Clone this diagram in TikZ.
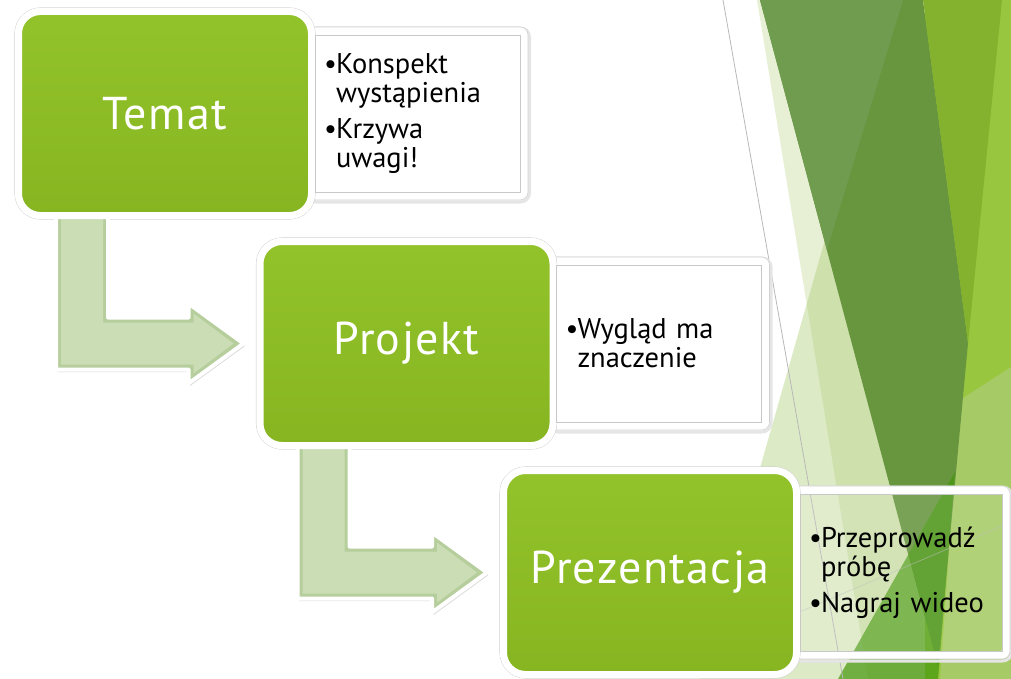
\documentclass[tikz,border=0pt]{standalone}
\usepackage{fontspec}
\setmainfont{PT Sans}
\usetikzlibrary{positioning,shadows,calc}
\pgfdeclarelayer{bg}
\pgfsetlayers{bg,main}

\definecolor{stagetop}{HTML}{93C32A}
\definecolor{stagebot}{HTML}{86B521}
\definecolor{bentfill}{HTML}{CADDB5}
\definecolor{bentedge}{HTML}{B6CD9C}
\definecolor{notegray}{HTML}{C8C8C8}
\definecolor{facetpale}{HTML}{E7F0D5}
\definecolor{facetlight}{HTML}{AACA70}
\definecolor{facetdark}{HTML}{68963F}
\definecolor{facetmid}{HTML}{6F9C4F}
\definecolor{facetolive}{HTML}{84B22E}
\definecolor{facetright}{HTML}{98C63E}
\definecolor{facetpaler}{HTML}{A6CB66}
\definecolor{facetgreen}{HTML}{44970B}

\tikzset{
  stagebox/.style={rectangle, rounded corners=22pt, top color=stagetop, bottom color=stagebot,
    draw=white, line width=7pt, minimum width=293pt, minimum height=204pt,
    inner sep=0pt, outer sep=0pt, text=white,
    font=\fontsize{46}{50}\selectfont\addfontfeature{LetterSpace=3},
    drop shadow={opacity=.3, shadow xshift=1.5pt, shadow yshift=-2.5pt}},
  notebox/.style={rectangle, draw=notegray, line width=.8pt, fill=white,
    minimum width=205pt, minimum height=157pt, text width=187pt, inner xsep=9pt,
    inner ysep=0pt, outer sep=0pt, align=left, font=\fontsize{28.5}{29}\selectfont},
  ring/.style={draw=white, line width=8pt, rounded corners=4pt},
  ringedge/.style={draw=black!18, line width=.6pt, rounded corners=8pt},
  ringshade/.style={draw=black!10, line width=3pt, rounded corners=9pt},
  facetline/.style={draw=black!28, line width=.8pt}
}

% bullet item and its hanging indent
\newcommand\bul[1]{\makebox[12pt][l]{\textbullet}#1}
\newcommand\ind{\hspace*{12pt}}

% bent arrow from below one stage to the left of the next
\newcommand\bentpath[3]{let \p1=(#1.south west), \p2=(#2.west) in
  ({\x1+37.5pt+#3pt},{\y1}) -- ({\x1+89.5pt-#3pt},{\y1}) -- ({\x1+89.5pt-#3pt},{\y2+26pt-#3pt})
  -- ({\x2-71.5pt+#3pt},{\y2+26pt-#3pt}) -- ({\x2-71.5pt+#3pt},{\y2+40pt-2*#3pt})
  -- ({\x2-16.5pt-2*#3pt},{\y2}) -- ({\x2-71.5pt+#3pt},{\y2-40pt+2*#3pt})
  -- ({\x2-71.5pt+#3pt},{\y2-26pt+#3pt}) -- ({\x1+37.5pt+#3pt},{\y2-26pt+#3pt}) -- cycle}
\newcommand\bentarrow[2]{%
  \filldraw[fill=bentedge, draw=white, line width=4pt, line join=round,
    drop shadow={opacity=.3, shadow xshift=1.5pt, shadow yshift=-2.5pt}] \bentpath{#1}{#2}{0};
  \fill[bentfill] \bentpath{#1}{#2}{5};}

\begin{document}
\begin{tikzpicture}[x=1pt,y=-1pt]
\useasboundingbox (0,0) rectangle (1011,679);

% facets on the right
\begin{pgfonlayer}{bg}
  \fill[facetpale] (757,0) -- (766,0) -- (945,679) -- (868,679) -- cycle;
  \fill[facetlight, opacity=.4] (832,215) -- (700,679) -- (960,679) -- cycle;
  \fill[facetright] (925,0) rectangle (1011,679);
  \fill[facetpaler] (960,400) -- (1011,367) -- (1011,679) -- (940,679) -- cycle;
  \fill[facetdark] (760,0) -- (923,0) -- (968,343) -- (938,666) -- cycle;
  \fill[facetmid] (760,0) -- (903,0) -- (827,250) -- cycle;
  \fill[facetolive] (923,0) -- (1002,0) -- (968,343) -- cycle;
  \fill[facetgreen, opacity=.7] (838,679) -- (955,472) -- (938,679) -- cycle;
  \draw[facetline] (723,0) -- (843,679);
  \draw[facetline, opacity=.5] (790,616) -- (1011,522);
\end{pgfonlayer}

\node[stagebox] (temat) at (165,113.5) {Temat};
\node[stagebox] (projekt) at (406.5,343.5) {Projekt};
\node[stagebox] (prezentacja) at (650,572.5) {Prezentacja};

\node[notebox, right=3.5pt of temat] (konspekt)
  {\bul{Konspekt}\\\ind wystąpienia\\[7pt]\bul{Krzywa}\\\ind uwagi!};
\node[notebox, right=3.5pt of projekt] (wyglad)
  {\bul{Wygląd ma}\\\ind znaczenie};
\node[notebox, right=3.5pt of prezentacja, minimum width=202pt, text width=184pt,
  fill opacity=.12, text opacity=1] (proba)
  {\bul{Przeprowadź}\\\ind próbę\\[7pt]\bul{Nagraj wideo}};

\begin{pgfonlayer}{bg}
  \foreach \n in {konspekt,wyglad,proba}{
    \draw[ringshade] ($(\n.north west)+(-8,-7)$) rectangle ($(\n.south east)+(9.5,10)$);
    \draw[ring] ($(\n.north west)+(-4,-4)$) rectangle ($(\n.south east)+(4,4)$);
    \draw[ringedge] ($(\n.north west)+(-8,-8)$) rectangle ($(\n.south east)+(8,8)$);
  }
  \foreach \s in {temat,projekt,prezentacja}
    \draw[ringedge, rounded corners=26pt] ($(\s.north west)+(-3.8,-3.8)$) rectangle ($(\s.south east)+(3.8,3.8)$);
  \foreach \a/\b in {temat/projekt,projekt/prezentacja}
    \bentarrow{\a}{\b};
\end{pgfonlayer}
\end{tikzpicture}
\end{document}
